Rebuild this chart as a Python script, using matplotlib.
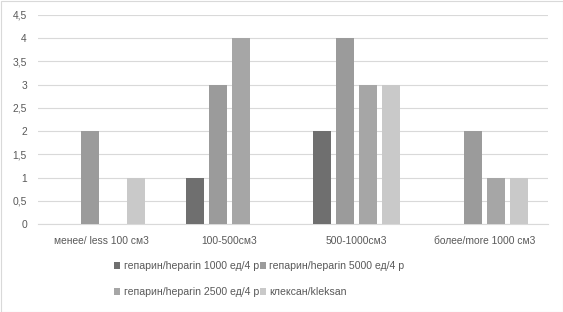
import matplotlib
matplotlib.use("Agg")
import matplotlib.pyplot as plt
from matplotlib.patches import Patch
import numpy as np

categories = ["менее/ less 100 см3", "100-500см3", "500-1000см3", "более/more 1000 см3"]
series_names = ["гепарин/heparin 1000 ед/4 р", "гепарин/heparin 5000 ед/4 р",
                "гепарин/heparin 2500 ед/4 р", "клексан/kleksan"]
heparin_1000 = [0, 1, 2, 0]
heparin_5000 = [2, 3, 4, 2]
heparin_2500 = [0, 4, 3, 1]
kleksan = [1, 0, 3, 1]
yticks = [0, 0.5, 1, 1.5, 2, 2.5, 3, 3.5, 4, 4.5]
ytick_labels = ["0", "0,5", "1", "1,5", "2", "2,5", "3", "3,5", "4", "4,5"]

colors = ["#6f6f6f", "#9b9b9b", "#a6a6a6", "#c9c9c9"]
series = [heparin_1000, heparin_5000, heparin_2500, kleksan]

plt.rcParams['font.family'] = ['Liberation Sans', 'DejaVu Sans']
W, H = 563, 312
fig = plt.figure(figsize=(W/100, H/100), dpi=100)
ax = fig.add_axes([38/W, 1-224/H, (548-38)/W, (224-15)/H])

x = np.arange(len(categories))
offsets = [-0.27, -0.09, 0.09, 0.27]
bw = 0.14
handles = []
for vals, off, c, name in zip(series, offsets, colors, series_names):
    ax.bar(x + off, vals, width=bw, color=c, zorder=3)
    handles.append(Patch(facecolor=c, label=name))

ax.set_xlim(-0.5, 3.5)
ax.set_ylim(0, 4.5)
ax.set_yticks(yticks)
ax.set_yticklabels(ytick_labels)
ax.set_xticks(x)
ax.set_xticklabels(categories)
ax.tick_params(axis='both', length=0, labelsize=7.4, colors="#595959")
ax.tick_params(axis='x', pad=9)
ax.tick_params(axis='y', pad=8)
ax.grid(axis='y', color="#d9d9d9", linewidth=0.8, zorder=0)
for s in ["top", "right", "left"]:
    ax.spines[s].set_visible(False)
ax.spines["bottom"].set_color("#d9d9d9")
ax.spines["bottom"].set_linewidth(0.8)

order = [handles[0], handles[2], handles[1], handles[3]]
leg = fig.legend(handles=order, ncol=2, loc="upper left",
                 bbox_to_anchor=(114/W, 1-261/H), frameon=False,
                 fontsize=7.6, handlelength=0.6, handleheight=0.6,
                 handletextpad=0.3, columnspacing=0.1, labelspacing=1.55,
                 borderpad=0, borderaxespad=0)
for t in leg.get_texts():
    t.set_color("#595959")

# chart border
fig.patches.append(plt.Rectangle((0.5/W, 0), 1-1/W, 1-0.5/H, transform=fig.transFigure,
                                 fill=False, edgecolor="#d9d9d9", linewidth=0.8))

fig.savefig("out.png", dpi=100)
